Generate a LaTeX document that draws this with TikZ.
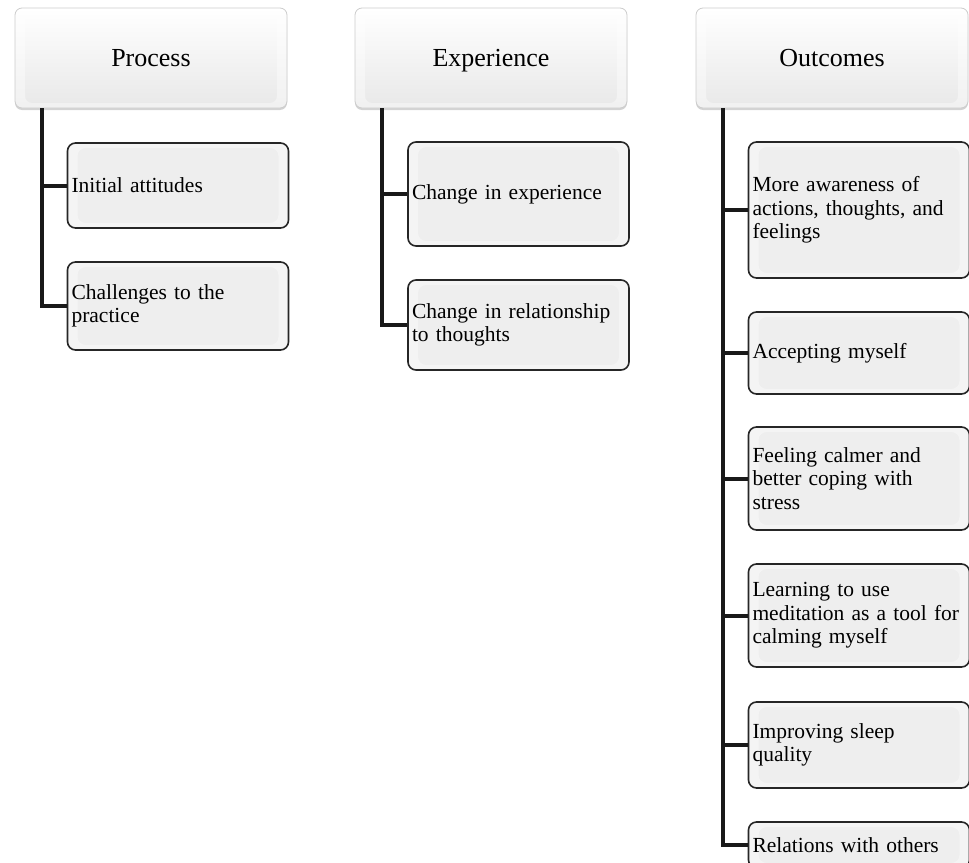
\documentclass[tikz,border=0pt]{standalone}
\usepackage{fontspec}
\setmainfont{Liberation Serif}
\usetikzlibrary{shadows}

\begin{document}
\begin{tikzpicture}[x=1pt, y=-1pt]
		\tikzstyle{bevel}=[path picture={
			\fill[white, opacity=.4, even odd rule]
				(path picture bounding box.south west) rectangle (path picture bounding box.north east)
				([shift={(10pt,5pt)}]path picture bounding box.south west) rectangle ([shift={(-10pt,-5pt)}]path picture bounding box.north east);
		}]
		\tikzstyle{head}=[draw=gray!40, line width=.8pt, rounded corners=7pt, top color=white, bottom color=gray!18,
			minimum width=272pt, minimum height=100pt, inner sep=0pt, text height=20pt, text depth=3pt,
			font=\fontsize{26}{28}\selectfont,
			drop shadow={shadow xshift=0pt, shadow yshift=-2pt, opacity=.35}, bevel]
		\tikzstyle{leaf}=[draw=black!85, line width=1.6pt, rounded corners=8pt, fill=gray!13,
			text width=213pt, align=left, inner xsep=4pt, inner ysep=0pt,
			font=\fontsize{21.5}{23.5}\selectfont, bevel]
		\tikzstyle{branch}=[line width=4pt, draw=black!90]
    \def\dx{27pt}

		\useasboundingbox (0,0) rectangle (969,862);

		% Process
		\node[head] (proc) at (151,58) {Process};
		\node[leaf, minimum height=85pt] (proc1) at (178,185.5) {Initial attitudes};
		\node[leaf, minimum height=88pt] (proc2) at (178,306) {Challenges to the\\practice};

		% Experience
		\node[head] (exp) at (491,58) {Experience};
		\node[leaf, minimum height=104pt] (exp1) at (518.5,194) {Change in experience};
		\node[leaf, minimum height=90pt] (exp2) at (518.5,325) {Change in relationship\\to thoughts};

		% Outcomes
		\node[head] (out) at (832,58) {Outcomes};
		\node[leaf, minimum height=136pt] (out1) at (859,210) {More awareness of\\actions, thoughts, and\\feelings};
		\node[leaf, minimum height=82pt] (out2) at (859,353) {Accepting myself};
		\node[leaf, minimum height=103pt] (out3) at (859,478.5) {Feeling calmer and\\better coping with\\stress};
		\node[leaf, minimum height=103pt] (out4) at (859,615.5) {Learning to use\\meditation as a tool for\\calming myself};
		\node[leaf, minimum height=86pt] (out5) at (859,745) {Improving sleep\\quality};
		\node[leaf, minimum height=46pt] (out6) at (859,845) {Relations with others};

		\foreach \p in {proc1,proc2}
			\draw[branch] ([xshift=\dx]proc.south west) |- (\p.west);
		\foreach \p in {exp1,exp2}
			\draw[branch] ([xshift=\dx]exp.south west) |- (\p.west);
		\foreach \p in {out1,out2,out3,out4,out5,out6}
			\draw[branch] ([xshift=\dx]out.south west) |- (\p.west);
	\end{tikzpicture}
\end{document}
